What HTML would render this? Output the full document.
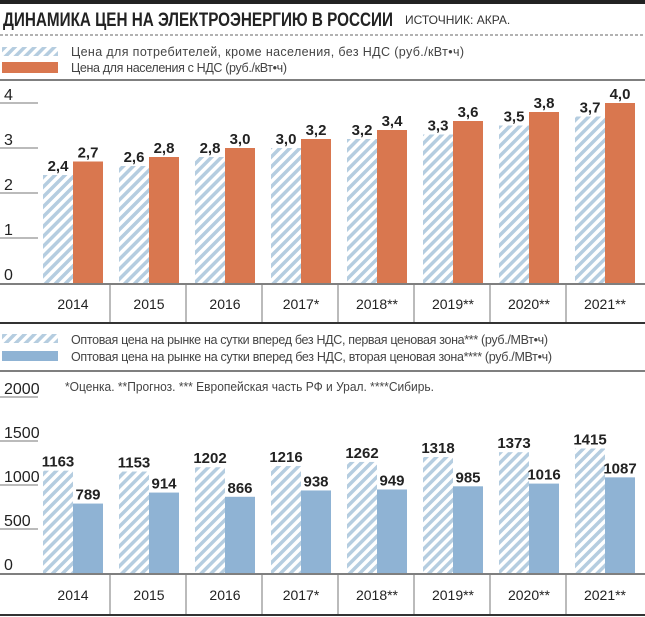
<!DOCTYPE html>
<html><head><meta charset="utf-8">
<style>
body{margin:0;background:#fff;width:645px;height:617px;overflow:hidden}
svg{display:block;font-family:"Liberation Sans","DejaVu Sans",sans-serif}
.lg{font-size:12.5px;fill:#444}
.ax{font-size:16px;fill:#222}
.val{font-size:15px;font-weight:bold;fill:#222}
.yr{font-size:14px;fill:#222}
</style></head>
<body>
<svg id="chart" width="645" height="617" viewBox="0 0 645 617">
<defs>
<pattern id="hatch" patternUnits="userSpaceOnUse" width="7" height="7" patternTransform="rotate(45)">
<rect width="7" height="7" fill="#fff"/>
<rect width="3.5" height="7" fill="#b5cde0"/>
</pattern>
</defs>
<rect x="0" y="0" width="645" height="4" fill="#222"/>
<text x="3" y="26" textLength="390" lengthAdjust="spacingAndGlyphs" style="font-size:19px;font-weight:bold;fill:#222">ДИНАМИКА ЦЕН НА ЭЛЕКТРОЭНЕРГИЮ В РОССИИ</text>
<text x="405" y="24" style="font-size:12px;fill:#333">ИСТОЧНИК: АКРА.</text>
<line x1="0" y1="35" x2="645" y2="35" stroke="#666" stroke-dasharray="3,2"/>
<rect x="2" y="47" width="56" height="9" fill="url(#hatch)"/>
<text class="lg" x="71" y="56" textLength="393" lengthAdjust="spacing">Цена для потребителей, кроме населения, без НДС (руб./кВт•ч)</text>
<rect x="2" y="62" width="56" height="11" fill="#d9774f"/>
<text class="lg" x="71" y="72" textLength="216" lengthAdjust="spacing">Цена для населения с НДС (руб./кВт•ч)</text>
<line x1="0" y1="80" x2="645" y2="80" stroke="#555" stroke-width="1.5"/>
<g id="top"></g>
<rect x="2" y="334" width="56" height="9" fill="url(#hatch)"/>
<text class="lg" x="71" y="344" textLength="477" lengthAdjust="spacing">Оптовая цена на рынке на сутки вперед без НДС, первая ценовая зона*** (руб./МВт•ч)</text>
<rect x="2" y="351" width="56" height="10" fill="#8fb3d4"/>
<text class="lg" x="71" y="361" textLength="481" lengthAdjust="spacing">Оптовая цена на рынке на сутки вперед без НДС, вторая ценовая зона**** (руб./МВт•ч)</text>
<line x1="0" y1="371" x2="645" y2="371" stroke="#555" stroke-width="1.5"/>
<text class="lg" x="65" y="391" textLength="369" lengthAdjust="spacingAndGlyphs">*Оценка. **Прогноз. *** Европейская часть РФ и Урал. ****Сибирь.</text>
<g id="bot"></g>
</svg>
<script>
const years = ["2014","2015","2016","2017*","2018**","2019**","2020**","2021**"];
const consumerPrice = [2.4,2.6,2.8,3.0,3.2,3.3,3.5,3.7];
const populationPrice = [2.7,2.8,3.0,3.2,3.4,3.6,3.8,4.0];
const topTicks = [0,1,2,3,4];
const zone1Price = [1163,1153,1202,1216,1262,1318,1373,1415];
const zone2Price = [789,914,866,938,949,985,1016,1087];
const botTicks = [0,500,1000,1500,2000];

const NS="http://www.w3.org/2000/svg";
function mk(tag,attrs,parent,text){const e=document.createElementNS(NS,tag);for(const k in attrs)e.setAttribute(k,attrs[k]);if(text!==undefined)e.textContent=text;parent.appendChild(e);return e;}
function fmt1(v){return v.toFixed(1).replace('.',',');}

function drawChart(g,opts){
  const {base,pxPerUnit,ticks,s1,s2,fill2,label,axisBottom,prefix}=opts;
  const y=v=>base-v*pxPerUnit;
  const xc=i=>73+76*i;
  ticks.forEach(t=>{
    const ty=y(t);
    if(t!==0){
      const l=mk('line',{x1:0,y1:ty,x2:38,y2:ty,stroke:'#777','stroke-width':1},g);
      
      
    }
    const tx=mk('text',{x:4,y:ty-3,class:'ax'},g,String(t));
    
    
  });
  years.forEach((yr,i)=>{
    const c=xc(i);
    const b1=mk('rect',{x:c-30,y:y(s1[i]),width:30,height:s1[i]*pxPerUnit,fill:'url(#hatch)'},g);
    
    
    const b2=mk('rect',{x:c,y:y(s2[i]),width:30,height:s2[i]*pxPerUnit,fill:fill2},g);
    
    
    const v1=mk('text',{x:c-15,y:y(s1[i])-4,class:'val','text-anchor':'middle'},g,label(s1[i]));
    
    
    const v2=mk('text',{x:c+15,y:y(s2[i])-4,class:'val','text-anchor':'middle'},g,label(s2[i]));
    
    
    const yl=mk('text',{x:c,y:base+(axisBottom-base)/2+6,class:'yr','text-anchor':'middle'},g,yr);
    
    
    if(i>0){
      const d=mk('line',{x1:c-39,y1:base+2,x2:c-39,y2:axisBottom,stroke:'#777'},g);
      
      
    }
  });
  const bl=mk('line',{x1:0,y1:base+1,x2:645,y2:base+1,stroke:'#555','stroke-width':1.5},g);
  
  
  const ab=mk('line',{x1:0,y1:axisBottom,x2:645,y2:axisBottom,stroke:'#333','stroke-width':2},g);
  
  
}
drawChart(document.getElementById('top'),{base:283,pxPerUnit:45,ticks:topTicks,s1:consumerPrice,s2:populationPrice,fill2:'#d9774f',label:fmt1,axisBottom:323,prefix:'top'});
drawChart(document.getElementById('bot'),{base:573,pxPerUnit:0.088,ticks:botTicks,s1:zone1Price,s2:zone2Price,fill2:'#8fb3d4',label:v=>String(v),axisBottom:615,prefix:'bottom'});
</script>
</body></html>
